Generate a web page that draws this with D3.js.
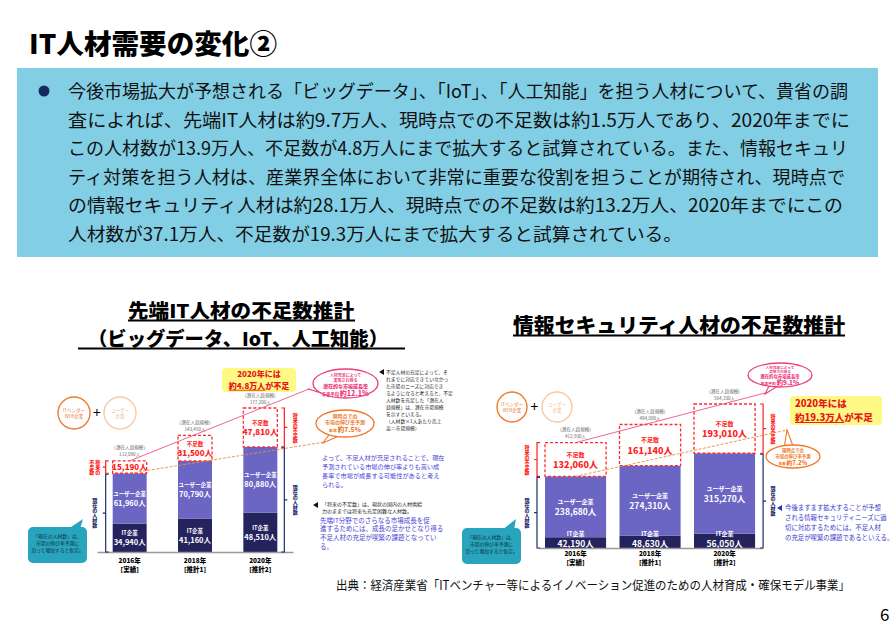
<!DOCTYPE html>
<html>
<head>
<meta charset="utf-8">
<script src="https://cdn.jsdelivr.net/npm/d3@7"></script>
<style>
  body { margin: 0; background: #fff; }
  svg { display: block; font-family: "Noto Sans CJK JP", "Noto Sans", sans-serif; }
</style>
</head>
<body>
<script>
// DATA -- YEARS & NOTES
var years = ['2016年', '2018年', '2020年'];
var yearNotes = ['[実績]', '[推計1]', '[推計2]'];

// DATA -- 先端IT人材 (ビッグデータ、IoT、人工知能)
var aiItFirms = [34940, 41160, 48510];
var aiUserFirms = [61960, 70790, 80880];
var aiShortage = [15190, 31500, 47810];

// DATA -- 情報セキュリティ人材
var secItFirms = [42190, 48630, 56050];
var secUserFirms = [238680, 274310, 315270];
var secShortage = [132060, 161140, 193010];

// TEXT
var introLines = [
   '今後市場拡大が予想される「ビッグデータ」、「IoT」、「人工知能」を担う人材について、貴省の調',
   '査によれば、先端IT人材は約9.7万人、現時点での不足数は約1.5万人であり、2020年までに',
   'この人材数が13.9万人、不足数が4.8万人にまで拡大すると試算されている。また、情報セキュリ',
   'ティ対策を担う人材は、産業界全体において非常に重要な役割を担うことが期待され、現時点で',
   'の情報セキュリティ人材は約28.1万人、現時点での不足数は約13.2万人、2020年までにこの',
   '人材数が37.1万人、不足数が19.3万人にまで拡大すると試算されている。'
];
var introWidths = [780, 782, 780, 777, 775, 614];

var fmt = d3.format(',');

// SVG
var svg = d3.select('body').append('svg').attr('width', 896).attr('height', 634);
svg.append('rect').attr('width', 896).attr('height', 634).attr('fill', '#fff');

// TITLE
svg.append('text').attr('x', 29).attr('y', 54)
   .attr('font-size', 27).attr('font-weight', 900)
   .attr('textLength', 248).attr('lengthAdjust', 'spacingAndGlyphs')
   .text('IT人材需要の変化②');

// INTRO BOX
svg.append('rect').attr('x', 17).attr('y', 68).attr('width', 861).attr('height', 189).attr('fill', '#82CEE5');
svg.append('circle').attr('cx', 44).attr('cy', 91).attr('r', 5.5).attr('fill', '#172A5C');
introLines.forEach(function(t, i) {
   svg.append('text').attr('x', 68).attr('y', 98 + i * 28.6)
      .attr('font-size', 18).attr('fill', '#111')
      .attr('textLength', introWidths[i]).attr('lengthAdjust', 'spacingAndGlyphs')
      .text(t);
});

// HEADINGS
function heading(cx, y, t, w, ux0, ux1, size) {
   svg.append('text').attr('x', cx).attr('y', y).attr('text-anchor', 'middle')
      .attr('font-size', size).attr('font-weight', 900)
      .attr('textLength', w).attr('lengthAdjust', 'spacingAndGlyphs').text(t);
   svg.append('line').attr('x1', ux0).attr('x2', ux1).attr('y1', y + 2.5).attr('y2', y + 2.5)
      .attr('stroke', '#000').attr('stroke-width', 2);
}
heading(241, 318, '先端IT人材の不足数推計', 226, 128, 355, 19);
heading(238, 346, '（ビッグデータ、IoT、人工知能）', 300, 78, 405, 19);
heading(679, 333, '情報セキュリティ人材の不足数推計', 332, 513, 845, 20);

// FOOTER
svg.append('text').attr('x', 336).attr('y', 590).attr('font-size', 12.5).attr('fill', '#111')
   .attr('textLength', 514).attr('lengthAdjust', 'spacingAndGlyphs')
   .text('出典：経済産業省「ITベンチャー等によるイノベーション促進のための人材育成・確保モデル事業」');
svg.append('text').attr('x', 880).attr('y', 621).attr('font-size', 17).text('6');

// SMALL TEXT HELPER
function lines(x, y0, step, arr, size, color, anchor) {
   arr.forEach(function(t, i) {
      svg.append('text').attr('x', x).attr('y', y0 + i * step)
         .attr('font-size', size).attr('fill', color)
         .attr('text-anchor', anchor || 'start').text(t);
   });
}

// VERTICAL TEXT HELPER
function vText(x, cy, t, color, size) {
   svg.append('text').attr('x', x).attr('y', cy)
      .attr('text-anchor', 'middle').style('writing-mode', 'vertical-rl')
      .attr('font-size', size).attr('font-weight', 900).attr('fill', color).text(t);
}

// CHART RENDERING FUNC
function drawChart(cfg) {

   // STACK
   var rows = years.map(function(y, i) {
      return { year: y, it: cfg.it[i], user: cfg.user[i], short: cfg.short[i] };
   });
   var series = d3.stack().keys(['it', 'user', 'short'])(rows);
   var totals = rows.map(function(r) { return r.it + r.user + r.short; });

   // SCALES
   var x = d3.scaleBand().domain(years).range(cfg.xRange)
      .paddingInner(cfg.padIn).paddingOuter(cfg.padOut);
   var y = d3.scaleLinear().domain([0, d3.max(totals)]).range([cfg.base, cfg.top]);
   var bw = x.bandwidth();

   var g = svg.append('g');

   // BARS
   var fills = { it: '#25235E', user: '#6B66C3', short: '#fff' };
   series.forEach(function(s) {
      g.selectAll(null).data(s).enter().append('rect')
         .attr('x', function(d) { return x(d.data.year); })
         .attr('y', function(d) { return y(d[1]); })
         .attr('width', bw)
         .attr('height', function(d) { return y(d[0]) - y(d[1]); })
         .attr('fill', fills[s.key])
         .attr('stroke', s.key === 'short' ? '#FF2A2A' : 'none')
         .attr('stroke-width', 1.3)
         .attr('stroke-dasharray', s.key === 'short' ? '3,2' : null);
   });

   // SEGMENT LABELS
   var names = { it: 'IT企業', user: 'ユーザー企業', short: '不足数' };
   series.forEach(function(s) {
      s.forEach(function(d) {
         var top = y(d[1]), bot = y(d[0]);
         var cx = x(d.data.year) + bw / 2;
         var isShort = s.key === 'short';
         var col = isShort ? '#FF1E1E' : '#fff';
         var vs = isShort ? cfg.shortSize : cfg.valSize;
         var ns = cfg.nameSize;
         var value = d.data[s.key];
         if (isShort && bot - top < 20) {
            g.append('text').attr('x', cx).attr('y', (top + bot) / 2 + vs * 0.38)
               .attr('text-anchor', 'middle').attr('font-size', vs).attr('font-weight', 900)
               .attr('fill', col).text(fmt(value) + '人');
            return;
         }
         var gap = 1.1 * vs + 0.25 * ns;
         var shift = 0.19 * (ns + vs);
         var mid = Math.min((top + bot) / 2, cfg.base - 1.5 - gap / 2 - shift);
         var nb = mid - gap / 2 + shift;
         g.append('text').attr('x', cx).attr('y', nb)
            .attr('text-anchor', 'middle').attr('font-size', ns).attr('font-weight', 700)
            .attr('fill', col).text(names[s.key]);
         g.append('text').attr('x', cx).attr('y', nb + gap)
            .attr('text-anchor', 'middle').attr('font-size', vs)
            .attr('font-weight', isShort ? 900 : 700)
            .attr('fill', col).text(fmt(value) + '人');
      });
   });

   // POTENTIAL SIZE LABELS
   rows.forEach(function(r, i) {
      var cx = x(r.year) + bw / 2, top = y(totals[i]);
      g.append('text').attr('x', cx).attr('y', top - 11.5).attr('text-anchor', 'middle')
         .attr('font-size', 4.6).attr('fill', '#666').text('（潜在人員規模）');
      g.append('text').attr('x', cx).attr('y', top - 4.5).attr('text-anchor', 'middle')
         .attr('font-size', 4.6).attr('fill', '#666').text(fmt(totals[i]) + '人');
   });

   // AXIS
   var axis = g.append('g').attr('transform', 'translate(0,' + cfg.base + ')')
      .call(d3.axisBottom(x).tickSize(0).tickPadding(cfg.tickPad));
   axis.select('.domain').attr('stroke', '#999').attr('stroke-width', 1.5);
   axis.selectAll('.tick text').remove();
   axis.selectAll('.tick').each(function(d, i) {
      var t = d3.select(this).append('text').attr('fill', '#000')
         .attr('font-size', 6.5).attr('font-weight', 900).attr('text-anchor', 'middle')
         .attr('font-family', '"Noto Sans CJK JP", sans-serif');
      t.append('tspan').attr('x', 0).attr('y', cfg.tickPad).text(d);
      t.append('tspan').attr('x', 0).attr('y', cfg.tickPad + 8.5).text(yearNotes[i]);
   });

   // BRACKETS
   function bracket(bx, y0, y1, dir, color) {
      var ym = (y0 + y1) / 2;
      g.append('path')
         .attr('d', 'M' + (bx + 3 * dir) + ',' + y0 + 'L' + bx + ',' + y0 + 'L' + bx + ',' + y1 +
            'L' + (bx + 3 * dir) + ',' + y1 + 'M' + bx + ',' + ym + 'L' + (bx - 3 * dir) + ',' + ym)
         .attr('fill', 'none').attr('stroke', color).attr('stroke-width', 1.2);
   }
   function bracketSet(i, side) {
      var bx = side < 0 ? x(years[i]) - cfg.brGap : x(years[i]) + bw + cfg.brGap;
      var yTop = y(totals[i]), yMid = y(rows[i].it + rows[i].user);
      bracket(bx, yTop, yMid, -side, '#FF1E1E');
      bracket(bx, yMid + 1, cfg.base, -side, '#1F2D6A');
      var lx = bx + side * cfg.labGap;
      if (yMid - yTop < 30) {
         vText(lx + 3, (yTop + yMid) / 2, '将来の', '#FF1E1E', 5);
         vText(lx - 3, (yTop + yMid) / 2, '不足数', '#FF1E1E', 5);
      } else {
         vText(lx, (yTop + yMid) / 2, '将来の不足数', '#FF1E1E', 5);
      }
      vText(lx, (yMid + cfg.base) / 2, '現在の人材数', '#1F2D6A', 5);
   }
   bracketSet(0, -1);
   bracketSet(2, 1);

   // GROWTH LINES
   var cx0 = x(years[0]) + bw / 2;
   g.append('line').attr('x1', cx0).attr('y1', y(totals[0]))
      .attr('x2', cfg.pinkEnd[0]).attr('y2', cfg.pinkEnd[1])
      .attr('stroke', '#F0508C').attr('stroke-width', 0.9);
   g.append('line').attr('x1', cx0).attr('y1', y(rows[0].it + rows[0].user))
      .attr('x2', cfg.orangeEnd[0]).attr('y2', cfg.orangeEnd[1])
      .attr('stroke', '#F28A3C').attr('stroke-width', 0.9).attr('stroke-dasharray', '3,1.5');
}

// LEFT CHART
drawChart({
   it: aiItFirms, user: aiUserFirms, short: aiShortage,
   xRange: [97, 293], padIn: 0.48, padOut: 0.24,
   base: 552, top: 408, tickPad: 11,
   nameSize: 5.5, valSize: 7.5, shortSize: 8,
   brGap: 7, labGap: 11, pinkEnd: [309, 389], orangeEnd: [325, 442]
});

// RIGHT CHART
drawChart({
   it: secItFirms, user: secUserFirms, short: secShortage,
   xRange: [538.3, 761.8], padIn: 0.18, padOut: 0.09,
   base: 548, top: 404, tickPad: 8,
   nameSize: 6, valSize: 8.5, shortSize: 9,
   brGap: 8, labGap: 10, pinkEnd: [765, 393], orangeEnd: [787, 430]
});

// ELLIPSE CALLOUTS
function ellipseCallout(cx, cy, rx, ry, tail, color, rows) {
   svg.append('path').attr('d', d3.line()(tail) + 'Z')
      .attr('fill', '#fff').attr('stroke', color).attr('stroke-width', 1.1);
   svg.append('ellipse').attr('cx', cx).attr('cy', cy).attr('rx', rx).attr('ry', ry)
      .attr('fill', '#fff').attr('stroke', color).attr('stroke-width', 1.3);
   rows.forEach(function(r) {
      var t = svg.append('text').attr('x', cx).attr('y', cy + r[1]).attr('text-anchor', 'middle')
         .attr('font-size', r[2]).attr('font-weight', r[3] ? 900 : 700).attr('fill', color);
      if (r[4]) {
         t.append('tspan').attr('font-size', r[2] * 0.6).text(r[0]);
         t.append('tspan').text(r[4]);
      } else {
         t.text(r[0]);
      }
   });
}
ellipseCallout(345.5, 383.5, 32.5, 14.5, [[322, 393], [331, 396], [308, 389]], '#EC3D7C', [
   ['人材充足によって', -7, 4], ['実現され得る', -1.5, 4], ['潜在的な市場成長率', 4.5, 5, true],
   ['年率平均 ', 12, 7, true, '約12.1%']
]);
ellipseCallout(345, 423.5, 29, 13.5, [[331, 432], [339, 436], [323, 443]], '#F07828', [
   ['現時点での', -6, 5], ['市場の伸び率予測', 0.8, 5], ['年率 ', 8.5, 6.5, true, '約7.5%']
]);
ellipseCallout(780, 375, 32, 12, [[770, 384], [778, 386], [765, 394]], '#EC3D7C', [
   ['人材充足によって', -6.5, 3.6], ['実現され得る', -1.8, 3.6], ['潜在的な市場成長率', 3.3, 4.4, true],
   ['年率平均 ', 10, 6.3, true, '約9.1%']
]);
ellipseCallout(793, 456.5, 27, 11.5, [[784, 449], [793, 446], [787, 430]], '#F07828', [
   ['現時点での', -5, 4.4], ['市場の伸び率予測', 1.3, 4.4], ['年率 ', 8, 5.8, true, '約7.2%']
]);

// YELLOW BOXES
function yellowBox(x0, y0, w, h, size, cx, anchor, b1, b2, shortTxt) {
   svg.append('rect').attr('x', x0).attr('y', y0).attr('width', w).attr('height', h)
      .attr('rx', 4).attr('fill', '#FDF984');
   svg.append('text').attr('x', cx).attr('y', b1).attr('text-anchor', anchor)
      .attr('font-size', size).attr('font-weight', 900).attr('fill', '#E8141E').text('2020年には');
   var t = svg.append('text').attr('x', cx).attr('y', b2).attr('text-anchor', anchor)
      .attr('font-size', size).attr('font-weight', 900).attr('fill', '#E8141E');
   t.append('tspan').attr('text-decoration', 'underline').text(shortTxt);
   t.append('tspan').text('が不足');
}
yellowBox(222, 368, 74, 24, 8, 259, 'middle', 377, 388.8, '約4.8万人');
yellowBox(790, 396, 92, 29, 9.5, 795, 'start', 407, 421, '約19.3万人');

// COMPANY CIRCLES
function circles(c1x, c2x, cy, r) {
   svg.append('circle').attr('cx', c1x).attr('cy', cy).attr('r', r)
      .attr('fill', '#fff').attr('stroke', '#EE7B30').attr('stroke-width', 1.4);
   lines(c1x, cy - 1.3, 6.6, ['ITベンダー', 'WEB企業'], 4.5, '#EE7B30', 'middle');
   svg.append('circle').attr('cx', c2x).attr('cy', cy).attr('r', r)
      .attr('fill', '#fff').attr('stroke', '#F9C9A5').attr('stroke-width', 1.4);
   lines(c2x, cy - 1.3, 6.6, ['ユーザー', '企業'], 4.5, '#F6B88A', 'middle');
   svg.append('text').attr('x', (c1x + c2x) / 2).attr('y', cy + 5).attr('text-anchor', 'middle')
      .attr('font-size', 14).text('+');
}
circles(74, 120, 413, 16);
circles(512, 557, 407, 15);

// TEAL CALLOUTS
function tealCallout(x0, y0, tip) {
   svg.append('path').attr('d', d3.line()([[x0 + 40, y0 + 2], [x0 + 52, y0 + 2], tip]) + 'Z').attr('fill', '#28A4BD');
   svg.append('rect').attr('x', x0).attr('y', y0).attr('width', 59).attr('height', 36)
      .attr('rx', 5).attr('fill', '#28A4BD');
   lines(x0 + 29.5, y0 + 11, 7.1, ['「現在の人材数」は、', '市場の伸び率予測に', '沿って増加すると仮定。'], 4.8, '#10303A', 'middle');
}
tealCallout(28, 527, [83, 519]);
tealCallout(462, 528, [516, 519]);

// MARKERS
function marker(x0, y0, color) {
   svg.append('path').attr('d', d3.line()([[x0, y0], [x0 + 5, y0 - 3], [x0 + 5, y0 + 3]]) + 'Z').attr('fill', color);
}

// LEFT NOTES
marker(379, 372, '#111');
lines(386, 374, 7, [
   '不足人材の充足によって、そ', 'れまでに対応できていなかっ', 'た市場のニーズに対応でき',
   'るようになると考えると、不足', '人材数を充足した「潜在人', '員規模」は、潜在市場規模',
   'を示すといえる。', '（人材数×1人あたり売上', '高＝市場規模）'
], 4.8, '#222');
lines(322, 459.5, 9, [
   'よって、不足人材が充足されることで、現在', '予測されている市場の伸び率よりも高い成',
   '長率で市場が成長する可能性があると考え', 'られる。'
], 6.2, '#4B3FD6');
marker(313, 505, '#111');
lines(322, 506, 7.3, ['「将来の不足数」は、現状の国内の人材供給', '力のままでは将来も充足困難な人材数。'], 5, '#222');
lines(320, 522.5, 8.9, [
   '先端IT分野でのさらなる市場成長を促', '進するためには、成長の足かせとなり得る',
   '不足人材の充足が喫緊の課題となってい', 'る。'
], 6.5, '#4B3FD6');

// RIGHT NOTE
marker(777, 508, '#2E2ECC');
lines(785, 510, 10, [
   '今後ますます拡大することが予想', 'される情報セキュリティニーズに適',
   '切に対応するためには、不足人材', 'の充足が喫緊の課題であるといえる。'
], 6.4, '#3A3ACD');
</script>
</body>
</html>
